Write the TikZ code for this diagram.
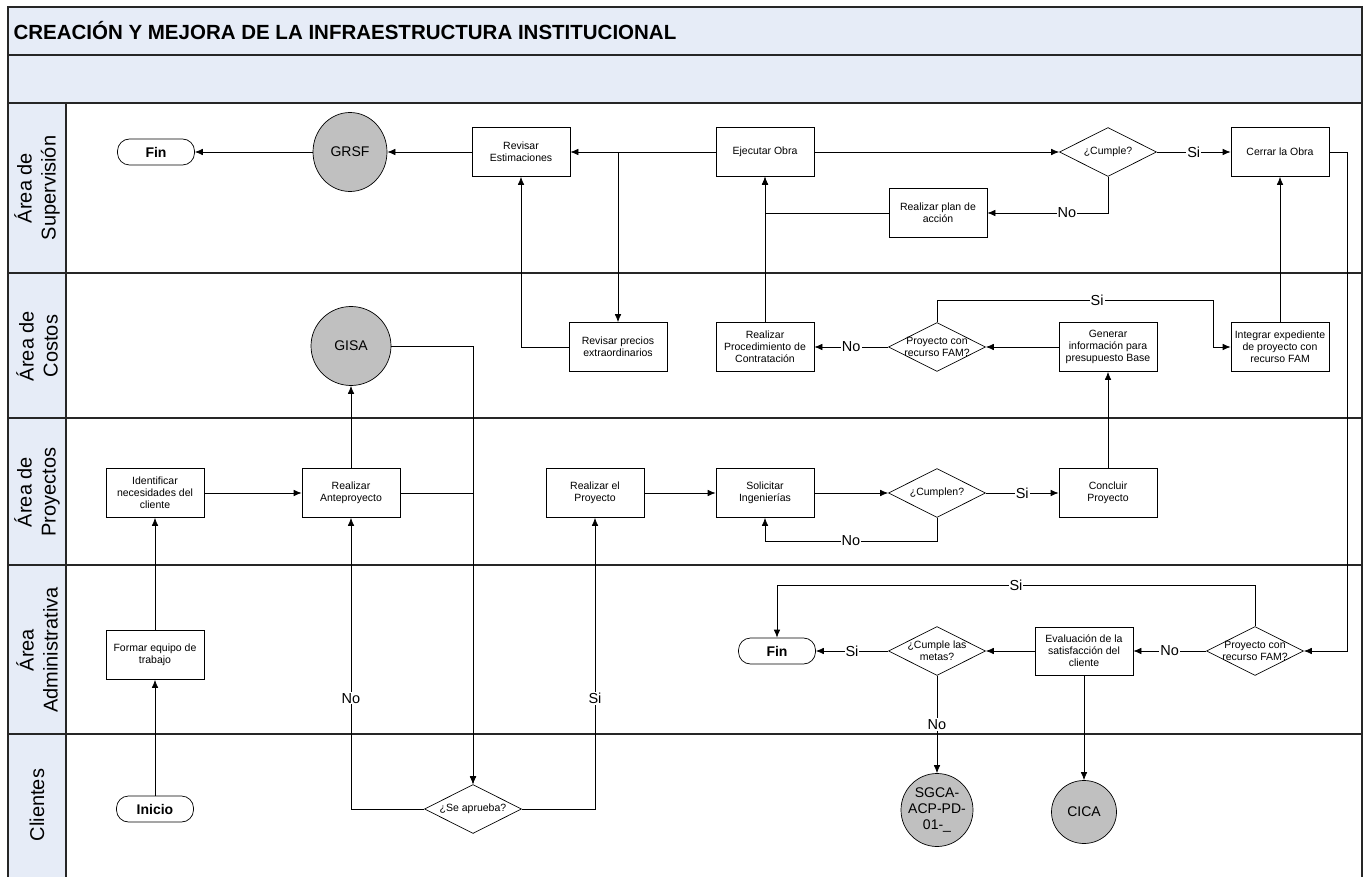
\documentclass[tikz,border=0pt]{standalone}
\usepackage{fontspec}
\setmainfont{Liberation Sans}
\usetikzlibrary{arrows.meta, shapes.geometric}
\definecolor{bandblue}{RGB}{230,236,247}
\definecolor{circgray}{RGB}{192,192,192}
\tikzstyle{arrow} = [draw, -{Latex[length=8pt,width=6.5pt]}, line width=0.7pt]
\tikzstyle{block} = [draw, rectangle, line width=0.7pt, minimum width=98pt, minimum height=49pt, align=center, inner sep=2pt, font=\fontsize{10.5}{12}\selectfont]
\tikzstyle{decision} = [draw, diamond, line width=0.7pt, minimum width=97pt, minimum height=49pt, inner sep=0pt]
\tikzstyle{dtext} = [align=center, font=\fontsize{10.5}{12}\selectfont]
\tikzstyle{term} = [draw, rectangle, rounded corners=12pt, line width=0.7pt, minimum width=77pt, minimum height=26pt, font=\bfseries\fontsize{14}{16}\selectfont]
\tikzstyle{link} = [draw, ellipse, fill=circgray, line width=0.7pt, align=center, inner sep=0pt, font=\fontsize{14}{16}\selectfont]
\tikzstyle{ltext} = [align=center, font=\fontsize{14}{16}\selectfont]
\tikzstyle{lbl} = [fill=white, inner sep=1pt, font=\fontsize{14.5}{16}\selectfont]
\tikzstyle{lane} = [rotate=90, align=center, font=\fontsize{20}{24}\selectfont]
\tikzstyle{border} = [line width=1.2pt, black!85]

\begin{document}
\begin{tikzpicture}[x=1pt, y=-1pt]
        \useasboundingbox (0,0) rectangle (1366,877);
        % pool and lanes
        \draw [border, fill=bandblue] (8,7) rectangle (1362,103);
        \draw [border] (8,55) -- (1362,55);
        \draw [border, fill=bandblue] (8,103) rectangle (66,880);
        \draw [border] (8,103) rectangle (1362,880);
        \draw [border] (8,273) -- (1362,273);
        \draw [border] (8,418) -- (1362,418);
        \draw [border] (8,565) -- (1362,565);
        \draw [border] (8,734) -- (1362,734);
        \node [anchor=west, font=\bfseries\fontsize{20.5}{24}\selectfont] (title) at (10,31) {CREACIÓN Y MEJORA DE LA INFRAESTRUCTURA INSTITUCIONAL};
        \node [lane] (laneSup) at (37,188) {Área de\\Supervisión};
        \node [lane] (laneCos) at (37,346) {Área de\\Costos};
        \node [lane] (lanePro) at (37,492) {Área de\\Proyectos};
        \node [lane] (laneAdm) at (37,650) {Área\\Administrativa};
        \node [lane] (laneCli) at (37,805) {Clientes};

        % Area de Supervision
        \node [term] (finSup) at (156,152) {Fin};
        \node [link, minimum width=74pt, minimum height=79pt] (grsf) at (350,152) {GRSF};
        \node [block] (revEst) at (521,152) {Revisar\\Estimaciones};
        \node [block] (ejecutar) at (765,152) {Ejecutar Obra};
        \node [decision, label={[dtext]center:¿Cumple?}] (cumple) at (1108,152) {};
        \node [block] (cerrar) at (1280,152) {Cerrar la Obra};
        \node [block] (plan) at (938,213) {Realizar plan de\\acción};

        % Area de Costos
        \node [link, minimum width=80pt, minimum height=79pt] (gisa) at (351,346) {GISA};
        \node [block] (revPrec) at (618,347) {Revisar precios\\extraordinarios};
        \node [block] (proced) at (765,347) {Realizar\\Procedimiento de\\Contratación};
        \node [decision, label={[dtext]center:Proyecto con\\recurso FAM?}] (famCos) at (937,347) {};
        \node [block] (generar) at (1108,347) {Generar\\información para\\presupuesto Base};
        \node [block] (integrar) at (1280,347) {Integrar expediente\\de proyecto con\\recurso FAM};
        \coordinate (siTurn) at (1213,300);

        % Area de Proyectos
        \node [block] (identificar) at (155,493) {Identificar\\necesidades del\\cliente};
        \node [block] (antep) at (351,493) {Realizar\\Anteproyecto};
        \node [block] (realProy) at (595,493) {Realizar el\\Proyecto};
        \node [block] (solicitar) at (765,493) {Solicitar\\Ingenierías};
        \node [decision, label={[dtext]center:¿Cumplen?}] (cumplen) at (937,493) {};
        \node [block] (concluir) at (1108,493) {Concluir\\Proyecto};

        % Area Administrativa
        \node [block] (formar) at (155,655) {Formar equipo de\\trabajo};
        \node [term] (finAdm) at (777,651) {Fin};
        \node [decision, label={[dtext]center:¿Cumple las\\metas?}] (metas) at (937,651) {};
        \node [block, minimum height=48pt] (evaluacion) at (1084,651) {Evaluación de la\\satisfacción del\\cliente};
        \node [decision, label={[dtext]center:Proyecto con\\recurso FAM?}] (famAdm) at (1255,651) {};

        % Clientes
        \node [term] (inicio) at (155,809) {Inicio};
        \node [decision, label={[dtext]center:¿Se aprueba?}] (seAprueba) at (473,809) {};
        \node [link, minimum width=72pt, minimum height=73pt, label={[ltext]center:SGCA-\\ACP-PD-\\01-\_}] (sgca) at (937,810) {};
        \node [link, minimum width=65pt, minimum height=63pt] (cica) at (1084,812) {CICA};

        % connectors
        \draw [arrow] (inicio.north) -- (formar.south);
        \draw [arrow] (formar.north) -- (identificar.south);
        \draw [arrow] (identificar.east) -- (antep.west);
        \draw [arrow] (antep.north) -- (gisa.south);
        \draw [arrow] (antep.east) -| (seAprueba.north);
        \draw [arrow] (gisa.east) -| (seAprueba.north);
        \draw [arrow] (seAprueba.west) -| node [lbl, pos=0.69] {No} (antep.south);
        \draw [arrow] (seAprueba.east) -| node [lbl, pos=0.69] {Si} (realProy.south);
        \draw [arrow] (realProy.east) -- (solicitar.west);
        \draw [arrow] (solicitar.east) -- (cumplen.west);
        \draw [arrow] (cumplen.east) -- node [lbl] {Si} (concluir.west);
        \draw [arrow] (cumplen.south) -- ++(0,23) -| node [lbl, pos=0.25] {No} (solicitar.south);
        \draw [arrow] (concluir.north) -- (generar.south);
        \draw [arrow] (generar.west) -- (famCos.east);
        \draw [arrow] (famCos.west) -- node [lbl] {No} (proced.east);
        \draw [arrow] (famCos.north) |- node [lbl, pos=0.79] {Si} (siTurn) |- (integrar.west);
        \draw [arrow] (proced.north) -- (ejecutar.south);
        \draw [arrow] (ejecutar.west) -- (revEst.east);
        \draw [arrow] (ejecutar.west) -| (revPrec.north);
        \draw [arrow] (revPrec.west) -| (revEst.south);
        \draw [arrow] (revEst.west) -- (grsf.east);
        \draw [arrow] (grsf.west) -- (finSup.east);
        \draw [arrow] (ejecutar.east) -- (cumple.west);
        \draw [arrow] (cumple.east) -- node [lbl] {Si} (cerrar.west);
        \draw [arrow] (cumple.south) |- node [lbl, pos=0.67] {No} (plan.east);
        \draw [arrow] (plan.west) -| (ejecutar.south);
        \draw [arrow] (integrar.north) -- (cerrar.south);
        \draw [arrow] (cerrar.east) -- ++(18,0) |- (famAdm.east);
        \draw [arrow] (famAdm.west) -- node [lbl] {No} (evaluacion.east);
        \draw [arrow] (famAdm.north) -- ++(0,-41) -| node [lbl, pos=0.25] {Si} (finAdm.north);
        \draw [arrow] (evaluacion.west) -- (metas.east);
        \draw [arrow] (metas.west) -- node [lbl] {Si} (finAdm.east);
        \draw [arrow] (metas.south) -- node [lbl] {No} (sgca.north);
        \draw [arrow] (evaluacion.south) -- (cica.north);
\end{tikzpicture}
\end{document}
